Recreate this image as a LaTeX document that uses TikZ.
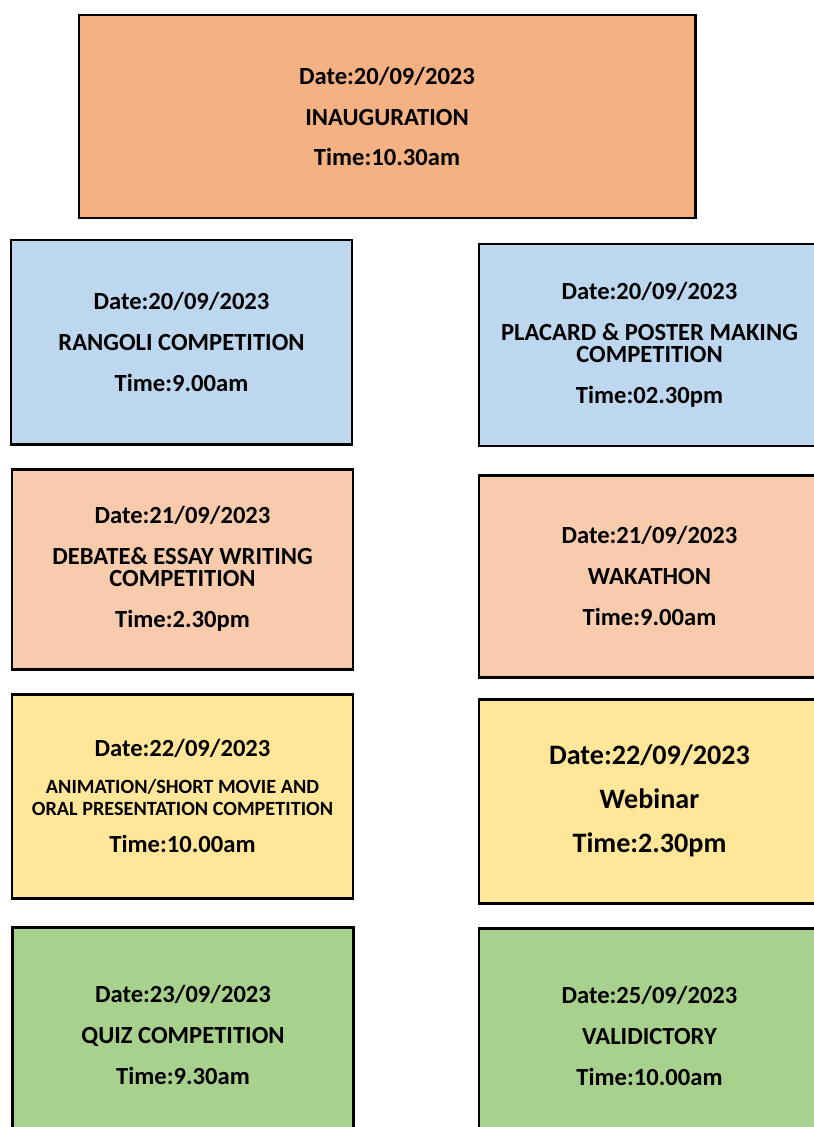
\documentclass[tikz,border=0pt]{standalone}
\usepackage{fontspec}
\setmainfont{Carlito}
\usepackage{xcolor}
\usetikzlibrary{positioning}
\definecolor{inaug}{HTML}{F4B183}
\definecolor{evblue}{HTML}{BDD7EE}
\definecolor{evpeach}{HTML}{F8CBAD}
\definecolor{evyellow}{HTML}{FFE699}
\definecolor{evgreen}{HTML}{A9D18E}
\tikzset{
  ev/.style={draw=black,line width=1.7pt,align=center,font=\fontsize{14}{12.8}\selectfont\bfseries,inner sep=2pt,minimum width=6.82cm},
  evl/.style={ev,minimum height=4.08cm},
  evr/.style={ev,minimum height=4.04cm},
}
\begin{document}
\begin{tikzpicture}
\useasboundingbox (0,0) rectangle (16.28,-22.54);
\clip (0,0) rectangle (16.28,-22.54);
% opening
\node[ev,fill=inaug,minimum width=12.32cm,minimum height=4.06cm] (inaug) at (7.74,-2.33)
  {Date:20/09/2023\\[10.5pt]INAUGURATION\\[10.5pt]Time:10.30am};
% day 1
\node[evl,fill=evblue] (rangoli) at (3.63,-6.84)
  {Date:20/09/2023\\[10.5pt]RANGOLI COMPETITION\\[10.5pt]Time:9.00am};
\node[evr,fill=evblue] (placard) at (12.99,-6.90)
  {Date:20/09/2023\\[10.5pt]PLACARD \& POSTER MAKING\\COMPETITION\\[10.5pt]Time:02.30pm};
% day 2
\node[evl,fill=evpeach,minimum height=4.0cm] (debate) at (3.65,-11.38)
  {Date:21/09/2023\\[10.5pt]DEBATE\& ESSAY WRITING\\COMPETITION\\[10.5pt]Time:2.30pm};
\node[evr,fill=evpeach] (walk) at (12.99,-11.52)
  {Date:21/09/2023\\[10.5pt]WAKATHON\\[10.5pt]Time:9.00am};
% day 3
\node[evl,fill=evyellow] (anim) at (3.65,-15.92)
  {Date:22/09/2023\\[8pt]{\fontsize{11.5}{11}\selectfont ANIMATION/SHORT MOVIE AND}\\
   {\fontsize{11.5}{11}\selectfont ORAL PRESENTATION COMPETITION}\\[8pt]Time:10.00am};
\node[evr,fill=evyellow,font=\fontsize{16}{16}\selectfont\bfseries,minimum height=4.08cm] (webinar) at (12.99,-16.02)
  {Date:22/09/2023\\[9pt]Webinar\\[9pt]Time:2.30pm};
% day 4 and closing
\node[ev,fill=evgreen,minimum height=4.3cm] (quiz) at (3.66,-20.7)
  {Date:23/09/2023\\[10.5pt]QUIZ COMPETITION\\[10.5pt]Time:9.30am};
\node[ev,fill=evgreen,minimum height=4.3cm] (valid) at (12.99,-20.72)
  {Date:25/09/2023\\[10.5pt]VALIDICTORY\\[10.5pt]Time:10.00am};
\end{tikzpicture}
\end{document}
